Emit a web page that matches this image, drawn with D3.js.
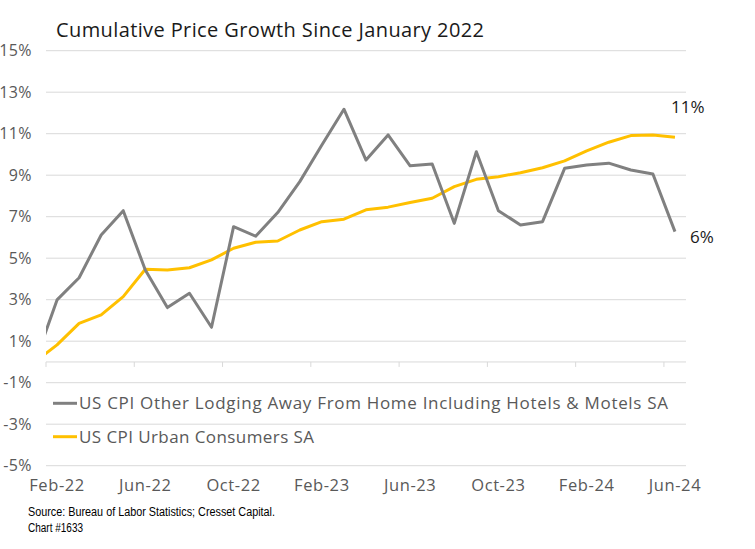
<!DOCTYPE html>
<html><head><meta charset="utf-8">
<script src="https://cdn.jsdelivr.net/npm/d3@7"></script>
<style>
html,body{margin:0;padding:0;background:#fff;}
svg{display:block;}
text{font-family:"Open Sans",sans-serif;}
</style></head>
<body>
<svg id="chart" width="755" height="549"></svg>
<script>
const months = ["Feb-22","Mar-22","Apr-22","May-22","Jun-22","Jul-22","Aug-22","Sep-22","Oct-22","Nov-22","Dec-22","Jan-23",
"Feb-23","Mar-23","Apr-23","May-23","Jun-23","Jul-23","Aug-23","Sep-23","Oct-23","Nov-23","Dec-23","Jan-24",
"Feb-24","Mar-24","Apr-24","May-24","Jun-24"];
const baseValue = 0; // Jan-22 base (cumulative growth since January 2022)
const lodging = [2.99,4.06,6.12,7.29,4.43,2.62,3.31,1.67,6.52,6.06,7.20,8.69,
10.46,12.18,9.73,10.94,9.45,9.54,6.68,10.13,7.29,6.60,6.76,9.33,
9.49,9.58,9.25,9.06,6.28];
const cpi = [0.82,1.86,2.27,3.15,4.47,4.43,4.54,4.92,5.48,5.77,5.83,6.36,
6.76,6.88,7.33,7.46,7.68,7.89,8.45,8.80,8.93,9.12,9.36,9.69,
10.17,10.59,10.91,10.94,10.83];
const yTicks = [-5,-3,-1,1,3,5,7,9,11,13,15];
const xTickLabels = ["Feb-22","Jun-22","Oct-22","Feb-23","Jun-23","Oct-23","Feb-24","Jun-24"];
const seriesNames = ["US CPI Other Lodging Away From Home Including Hotels & Motels SA","US CPI Urban Consumers SA"];
const endLabels = ["6%","11%"];

const svg = d3.select("#chart");
const L = 46, R = 686, T = 50.7, B = 465.7;
const x = d3.scaleBand().domain(months).range([L, R]).padding(0);
const y = d3.scaleLinear().domain([-5, 15]).range([B, T]);
const bw = x.bandwidth();
const cx = m => x(m) + bw / 2;

// title
svg.append("text").attr("x", 56).attr("y", 30).attr("dy", "0.35em").attr("font-size", 20).attr("fill", "#1a1a1a")
  .attr("textLength", 428).attr("lengthAdjust", "spacing")
  .text("Cumulative Price Growth Since January 2022");

// gridlines
svg.append("g").selectAll("line").data(yTicks).join("line")
  .attr("x1", L).attr("x2", R).attr("y1", d => y(d)).attr("y2", d => y(d))
  .attr("stroke", "#d9d9d9").attr("stroke-width", 1);
// zero axis line
svg.append("line").attr("x1", L).attr("x2", R).attr("y1", y(0)).attr("y2", y(0))
  .attr("stroke", "#d9d9d9").attr("stroke-width", 1);
// x tick marks
svg.append("g").selectAll("line").data(xTickLabels).join("line")
  .attr("x1", d => x(d)).attr("x2", d => x(d)).attr("y1", y(0)).attr("y2", y(0) + 5)
  .attr("stroke", "#d9d9d9").attr("stroke-width", 1);

// y labels
svg.append("g").selectAll("text").data(yTicks).join("text")
  .attr("x", 32).attr("y", d => y(d)).attr("dy", "0.35em").attr("text-anchor", "end")
  .attr("font-size", 16).attr("letter-spacing", 0.4).attr("fill", "#595959").text(d => d + "%");
// x labels
svg.append("g").selectAll("text").data(xTickLabels).join("text")
  .attr("x", d => cx(d)).attr("y", 485).attr("dy", "0.35em").attr("text-anchor", "middle")
  .attr("font-size", 16.5).attr("letter-spacing", 0.6).attr("fill", "#595959").text(d => d);

// lines
svg.append("defs").append("clipPath").attr("id", "clip").append("rect")
  .attr("x", L).attr("y", 0).attr("width", R - L).attr("height", 549);
const line = d3.line().x(d => d[0]).y(d => y(d[1]));
const pts = arr => [[x(months[0]) - bw / 2, baseValue]].concat(arr.map((v, i) => [cx(months[i]), v]));
const colors = ["#808080", "#FFC000"];
const g = svg.append("g").attr("clip-path", "url(#clip)");
g.append("path").attr("d", line(pts(cpi))).attr("fill", "none").attr("stroke", colors[1]).attr("stroke-width", 3).attr("stroke-linejoin", "round");
g.append("path").attr("d", line(pts(lodging))).attr("fill", "none").attr("stroke", colors[0]).attr("stroke-width", 3).attr("stroke-linejoin", "round");

// end labels
svg.append("text").attr("x", 671).attr("y", 107).attr("dy", "0.35em").attr("font-size", 17).attr("fill", "#1a1a1a").text(endLabels[1]);
svg.append("text").attr("x", 690).attr("y", 237).attr("dy", "0.35em").attr("font-size", 17).attr("fill", "#1a1a1a").text(endLabels[0]);

// legend
const legY = [403.3, 436.7];
const legLen = [589, 235];
seriesNames.forEach((n, i) => {
  svg.append("line").attr("x1", 53).attr("x2", 77).attr("y1", legY[i]).attr("y2", legY[i])
    .attr("stroke", colors[i]).attr("stroke-width", 3);
  svg.append("text").attr("x", 79).attr("y", legY[i]).attr("dy", "0.35em")
    .attr("font-size", 17).attr("fill", "#595959")
    .attr("textLength", legLen[i]).attr("lengthAdjust", "spacing").text(n);
});

// source
const srcFont = "'Liberation Sans Narrow','Liberation Sans',sans-serif";
svg.append("text").attr("x", 28).attr("y", 512).attr("dy", "0.35em").attr("font-size", 12.5).attr("fill", "#000")
  .attr("textLength", 247).attr("lengthAdjust", "spacingAndGlyphs")
  .style("font-family", srcFont).text("Source: Bureau of Labor Statistics; Cresset Capital.");
svg.append("text").attr("x", 28).attr("y", 528).attr("dy", "0.35em").attr("font-size", 12.5).attr("fill", "#000")
  .attr("textLength", 55).attr("lengthAdjust", "spacingAndGlyphs")
  .style("font-family", srcFont).text("Chart #1633");
</script>
</body></html>
